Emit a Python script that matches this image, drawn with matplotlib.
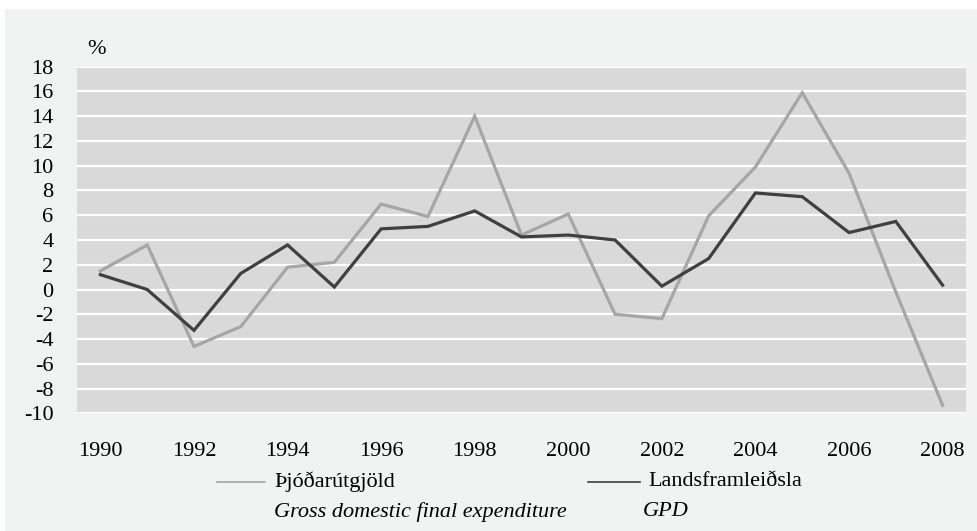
import matplotlib
matplotlib.use("Agg")
import matplotlib.pyplot as plt
from matplotlib.patches import Rectangle

years = list(range(1990, 2009))
thjodarutgjold = [1.5, 3.6, -4.6, -3.0, 1.8, 2.2, 6.9, 5.9, 14.0, 4.4, 6.1, -2.0, -2.35, 5.95, 9.9, 15.9, 9.4, -0.2, -9.35]
landsframleidsla = [1.2, 0.0, -3.3, 1.3, 3.6, 0.2, 4.9, 5.1, 6.35, 4.25, 4.4, 4.0, 0.27, 2.5, 7.8, 7.5, 4.6, 5.5, 0.35]
yticks = list(range(-10, 19, 2))
xticks = list(range(1990, 2009, 2))

W, H = 978, 531
FS = 16
plt.rcParams['font.family'] = ['Liberation Serif', 'DejaVu Serif']
fig = plt.figure(figsize=(W / 100, H / 100), dpi=100)
fig.patch.set_facecolor('white')
bg = Rectangle((5 / W, 0), 1 - 5 / W, 1 - 9 / H, transform=fig.transFigure,
               facecolor='#f1f2f2', edgecolor='none', zorder=-10)
fig.add_artist(bg)

left, right, top, bottom = 77, 966, 66.7, 413.3
ax = fig.add_axes([left / W, 1 - bottom / H, (right - left) / W, (bottom - top) / H])
ax.set_zorder(5)
ax.set_facecolor('#d9d9d9')
ax.set_xlim(1989.5, 2008.5)
ax.set_ylim(-10, 18)
for v in yticks:
    ax.axhline(v, color='white', lw=1.6, zorder=1)
ax.plot(years, thjodarutgjold, color='#a6a6a6', lw=2.3, zorder=3, solid_joinstyle='miter')
ax.plot(years, landsframleidsla, color='#404040', lw=2.3, zorder=4, solid_joinstyle='miter')
for s in ax.spines.values():
    s.set_visible(False)
ax.set_yticks(yticks)
ax.set_yticklabels([str(v) for v in yticks], fontsize=FS)
ax.set_xticks(xticks)
ax.set_xticklabels([str(v) for v in xticks], fontsize=FS)
ax.tick_params(length=0)
ax.tick_params(axis='y', pad=17)
ax.tick_params(axis='x', pad=20.5)

def fx(px):
    return px / W

def fy(py):
    return 1 - py / H

fig.text(fx(87), fy(50), '%', fontsize=FS, ha='left', va='center')
fig.add_artist(plt.Line2D([fx(217), fx(265)], [fy(482), fy(482)], transform=fig.transFigure,
                          color='#a6a6a6', lw=1.2))
fig.text(fx(274), fy(482), 'Þjóðarútgjöld', fontsize=FS, ha='left', va='center')
fig.text(fx(274), fy(512), 'Gross domestic final expenditure', fontsize=FS, ha='left', va='center',
         style='italic')
fig.add_artist(plt.Line2D([fx(588), fx(640)], [fy(482), fy(482)], transform=fig.transFigure,
                          color='#404040', lw=1.2))
fig.text(fx(648), fy(482), 'Landsframleiðsla', fontsize=FS, ha='left', va='center')
fig.text(fx(643), fy(512), 'GPD', fontsize=FS, ha='left', va='center', style='italic')

fig.savefig('out.png', dpi=100, facecolor=fig.get_facecolor())
